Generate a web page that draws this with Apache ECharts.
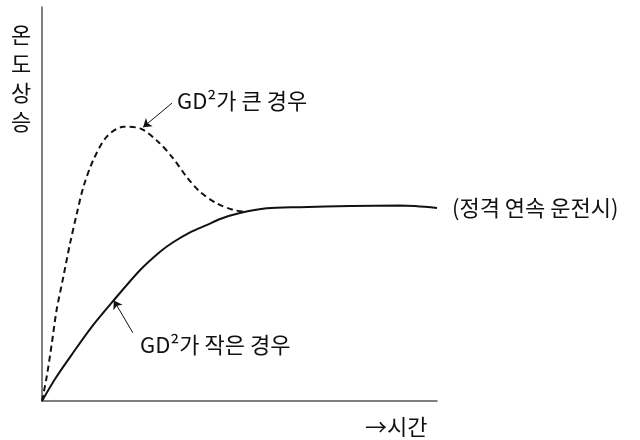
<!DOCTYPE html>
<html>
<head>
<meta charset="utf-8">
<script src="https://cdn.jsdelivr.net/npm/echarts@6/dist/echarts.min.js"></script>
<style>
  html, body { margin: 0; padding: 0; background: #fff; }
  #chart { width: 640px; height: 440px; }
</style>
</head>
<body>
<div id="chart"></div>
<script>
// Temperature rise vs. time (arbitrary units, 0–100 on both axes)
const timeSmall = [0, 3.5, 7.9, 12.5, 17.6, 24.8, 29.9, 33.2, 37.5, 41.8, 45.1, 50.1, 56.9, 65.3, 78.0, 90.6, 100];
const riseSmall = [0, 5.9, 12.3, 18.7, 24.9, 33.2, 37.9, 40.3, 42.8, 44.7, 46.2, 47.7, 48.9, 49.2, 49.5, 49.6, 49.0];

const timeLarge = [0, 1.2, 2.5, 3.7, 5.4, 7.1, 8.8, 10.5, 13.0, 16.4, 20.6, 24.8, 29.4, 33.2, 36.6, 40.0, 44.2, 48.4, 51.8];
const riseLarge = [0, 6.2, 14.7, 23.1, 31.5, 40.0, 47.5, 54.4, 61.2, 67.1, 69.6, 69.2, 65.8, 61.6, 56.9, 53.1, 50.2, 48.5, 48.0];

// Leader arrows: [start, tip] in data units
const arrowLarge = [[32.9, 75.6], [25.6, 69.5]];
const arrowSmall = [[23.0, 17.3], [18.2, 25.5]];

const labelLarge = 'GD²가 큰 경우';
const labelSmall = 'GD²가 작은 경우';
const labelRated = '(정격 연속 운전시)';
const labelY = '온도상승';
const labelX = '→시간';

const zip = (xs, ys) => xs.map((x, i) => [x, ys[i]]);
const FONT = '"Noto Sans CJK KR", "Noto Sans", sans-serif';
const TEXT_FONT = '22px ' + FONT;
const INK = '#111';

const arrowLine = (pts) => ({
  silent: true,
  animation: false,
  symbol: ['none', 'arrow'],
  symbolSize: 8,
  label: { show: false },
  lineStyle: { color: INK, width: 1, type: 'solid' },
  emphasis: { disabled: true },
  data: [[{ coord: pts[0] }, { coord: pts[1] }]]
});

const chart = echarts.init(document.getElementById('chart'), null, { renderer: 'canvas' });
chart.setOption({
  backgroundColor: '#fff',
  animation: false,
  grid: { left: 42, top: 7, width: 395, height: 394, containLabel: false },
  xAxis: {
    type: 'value', min: 0, max: 100,
    axisLine: { show: true, lineStyle: { color: '#555', width: 1.5 } },
    axisTick: { show: false }, axisLabel: { show: false }, splitLine: { show: false }
  },
  yAxis: {
    type: 'value', min: 0, max: 100,
    axisLine: { show: true, lineStyle: { color: '#555', width: 1.5 } },
    axisTick: { show: false }, axisLabel: { show: false }, splitLine: { show: false }
  },
  series: [
    {
      type: 'line',
      data: zip(timeLarge, riseLarge),
      smooth: 0.3,
      showSymbol: false,
      lineStyle: { color: INK, width: 2, type: [6, 4] },
      markLine: arrowLine(arrowLarge)
    },
    {
      type: 'line',
      data: zip(timeSmall, riseSmall),
      smooth: 0.3,
      showSymbol: false,
      lineStyle: { color: INK, width: 2 },
      markLine: arrowLine(arrowSmall)
    }
  ],
  graphic: [
    { type: 'text', left: 177, top: 90, style: { text: labelLarge, font: TEXT_FONT, fill: INK } },
    { type: 'text', left: 140, top: 334, style: { text: labelSmall, font: TEXT_FONT, fill: INK } },
    { type: 'text', left: 452, top: 197, style: { text: labelRated, font: TEXT_FONT, fill: INK } },
    { type: 'text', left: 365, top: 416, style: { text: labelX, font: TEXT_FONT, fill: INK } },
    { type: 'text', left: 11, top: 20, style: { text: labelY.split('').join('\n'), font: TEXT_FONT, lineHeight: 29, fill: INK, align: 'center' } }
  ]
});
</script>
</body>
</html>
